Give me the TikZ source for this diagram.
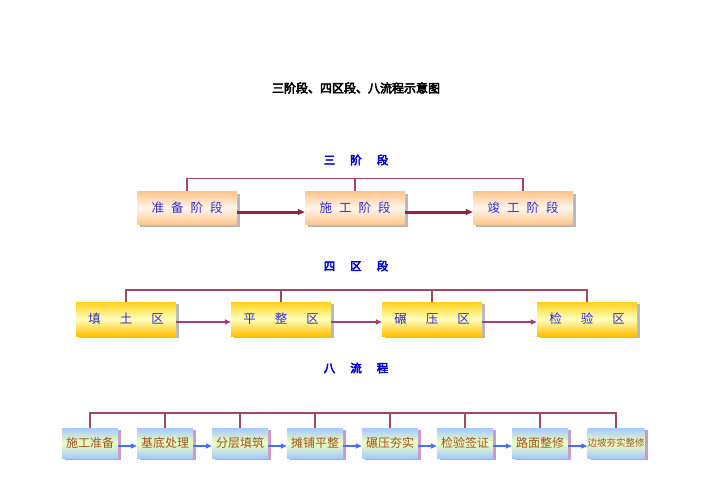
\documentclass[tikz,border=0pt]{standalone}
\usepackage{fontspec}
\usepackage{tikz}
\usetikzlibrary{arrows.meta, shadows}
\newfontfamily\cjk{Noto Sans CJK SC}
\newfontfamily\cjkbold{Noto Sans CJK SC}[FakeBold=4]
\newcommand{\stagegap}{\hspace{7pt}}
\newcommand{\zonegap}{\hspace{19pt}}
\newcommand{\headgap}{\hspace{15pt}}
\definecolor{busred}{RGB}{165, 70, 100}
\definecolor{stagered}{RGB}{145, 35, 65}
\definecolor{zonepurple}{RGB}{165, 60, 130}
\definecolor{flowblue}{RGB}{70, 110, 255}
\definecolor{textblue}{RGB}{45, 45, 210}
\definecolor{textbrown}{RGB}{160, 85, 25}
\definecolor{headblue}{RGB}{0, 0, 220}

\begin{document}
\begin{tikzpicture}[
    x=1pt, y=-1pt,
    stagebox/.style={minimum width=100pt, minimum height=33pt, inner sep=0pt, shading=axis,
        top color=orange!45, bottom color=orange!45, middle color=orange!8,
        drop shadow={shadow xshift=3pt, shadow yshift=-2pt, fill=gray!55, opacity=1},
        text=textblue, font=\cjk\fontsize{12.5}{14}\selectfont},
    zonebox/.style={minimum width=100pt, minimum height=34pt, inner sep=0pt, shading=axis,
        top color=yellow!60!orange!90, bottom color=orange!50!yellow, middle color=yellow!25,
        drop shadow={shadow xshift=3pt, shadow yshift=-2pt, fill=gray!55, opacity=1},
        text=textblue, font=\cjk\fontsize{12.5}{14}\selectfont},
    flowbox/.style={minimum width=56pt, minimum height=30pt, inner sep=0pt, shading=axis,
        top color=cyan!40!blue!35, bottom color=cyan!40!blue!35, middle color=green!25!yellow!25,
        drop shadow={shadow xshift=3pt, shadow yshift=-2pt, fill=violet!40, opacity=1},
        text=textbrown, font=\cjk\fontsize{12}{14}\selectfont},
    head/.style={text=headblue, font=\cjkbold\fontsize{11.5}{13}\selectfont},
    bus/.style={draw=busred, line width=1.4pt},
    stagearrow/.style={-{Triangle[length=7pt, width=6pt]}, draw=stagered, fill=stagered, line width=3pt},
    zonearrow/.style={-{Triangle[length=6pt, width=5pt]}, draw=zonepurple, fill=zonepurple, line width=1.8pt},
    flowarrow/.style={-{Triangle[length=6pt, width=5pt]}, draw=flowblue, fill=flowblue, line width=1.2pt},
]
\useasboundingbox (0,0) rectangle (707,500);

% Title
\node[font=\cjkbold\fontsize{12}{14}\selectfont] (title) at (356,88) {三阶段、四区段、八流程示意图};

% Three stages
\node[head] (h1) at (356,160) {三\headgap 阶\headgap 段};
\node[stagebox] (s1) at (187,208) {准\stagegap 备\stagegap 阶\stagegap 段};
\node[stagebox] (s2) at (355,208) {施\stagegap 工\stagegap 阶\stagegap 段};
\node[stagebox] (s3) at (523,208) {竣\stagegap 工\stagegap 阶\stagegap 段};
\draw[bus] (s1.north) -- ++(0,-13) -| (s3.north);
\draw[bus] (s2.north) -- ++(0,-13);
\draw[stagearrow] ([yshift=-4pt]s1.east) -- ([yshift=-4pt]s2.west);
\draw[stagearrow] ([yshift=-4pt]s2.east) -- ([yshift=-4pt]s3.west);

% Four zones
\node[head] (h2) at (356,266) {四\headgap 区\headgap 段};
\node[zonebox] (z1) at (126,319) {填\zonegap 土\zonegap 区};
\node[zonebox] (z2) at (281,319) {平\zonegap 整\zonegap 区};
\node[zonebox] (z3) at (432,319) {碾\zonegap 压\zonegap 区};
\node[zonebox] (z4) at (587,319) {检\zonegap 验\zonegap 区};
\draw[bus] (z1.north) -- ++(0,-12) -| (z4.north);
\foreach \z in {z2, z3}
    \draw[bus] (\z.north) -- ++(0,-12);
\draw[zonearrow] ([yshift=-3pt]z1.east) -- ([yshift=-3pt]z2.west);
\draw[zonearrow] ([yshift=-3pt]z2.east) -- ([yshift=-3pt]z3.west);
\draw[zonearrow] ([yshift=-3pt]z3.east) -- ([yshift=-3pt]z4.west);

% Eight processes
\node[head] (h3) at (356,368) {八\headgap 流\headgap 程};
\node[flowbox] (f1) at (90,443) {施工准备};
\node[flowbox] (f2) at (165,443) {基底处理};
\node[flowbox] (f3) at (240,443) {分层填筑};
\node[flowbox] (f4) at (315,443) {摊铺平整};
\node[flowbox] (f5) at (390,443) {碾压夯实};
\node[flowbox] (f6) at (465,443) {检验签证};
\node[flowbox] (f7) at (540,443) {路面整修};
\node[flowbox, font=\cjk\fontsize{9.5}{11}\selectfont] (f8) at (616,443) {边坡夯实整修};
\draw[bus] (f1.north) -- ++(0,-15) -| (f8.north);
\foreach \f in {f2, f3, f4, f5, f6, f7}
    \draw[bus] (\f.north) -- ++(0,-15);
\foreach \a/\b in {f1/f2, f2/f3, f3/f4, f4/f5, f5/f6, f6/f7, f7/f8}
    \draw[flowarrow] ([yshift=-3pt]\a.east) -- ([yshift=-3pt]\b.west);
\end{tikzpicture}
\end{document}
